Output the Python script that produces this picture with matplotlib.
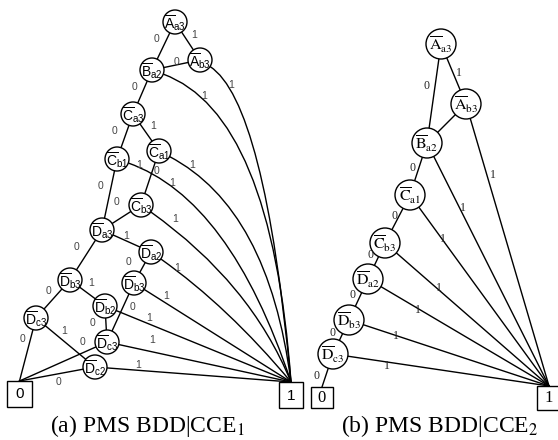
import numpy as np
import matplotlib
matplotlib.use("Agg")
from matplotlib import pyplot as plt
from matplotlib.patches import Circle, Rectangle, PathPatch
from matplotlib.path import Path

plt.rcParams['mathtext.fontset'] = 'custom'
plt.rcParams['mathtext.rm'] = 'Liberation Sans'
plt.rcParams['mathtext.it'] = 'Liberation Sans:italic'

# ---- (a) PMS BDD|CCE1 ----
a_nodes = ['Aa3', 'Ab3', 'Ba2', 'Ca3', 'Ca1', 'Cb1', 'Cb3', 'Da3', 'Da2',
           'Db3', 'Db3r', 'Db2', 'Dc3', 'Dc3m', 'Dc2']
a_letters = ['A', 'A', 'B', 'C', 'C', 'C', 'C', 'D', 'D', 'D', 'D', 'D', 'D', 'D', 'D']
a_subs = ['a3', 'b3', 'a2', 'a3', 'a1', 'b1', 'b3', 'a3', 'a2', 'b3', 'b3', 'b2', 'c3', 'c3', 'c2']
a_edges = [('Aa3', 'Ba2', '0'), ('Aa3', 'Ab3', '1'), ('Ab3', 'Ba2', '0'), ('Ab3', 'T1', '1'),
           ('Ba2', 'Ca3', '0'), ('Ba2', 'T1', '1'),
           ('Ca3', 'Cb1', '0'), ('Ca3', 'Ca1', '1'),
           ('Ca1', 'Cb3', '0'), ('Ca1', 'T1', '1'),
           ('Cb1', 'Da3', '0'), ('Cb1', 'T1', '1'),
           ('Cb3', 'Da3', '0'), ('Cb3', 'T1', '1'),
           ('Da3', 'Db3', '0'), ('Da3', 'Da2', '1'),
           ('Da2', 'Db3r', '0'), ('Da2', 'T1', '1'),
           ('Db3', 'Dc3', '0'), ('Db3', 'Db2', '1'),
           ('Db3r', 'Dc3m', '0'), ('Db3r', 'T1', '1'),
           ('Db2', 'Dc3m', '0'), ('Db2', 'T1', '1'),
           ('Dc3', 'T0', '0'), ('Dc3', 'Dc2', '1'),
           ('Dc3m', 'T0', '0'), ('Dc3m', 'T1', '1'),
           ('Dc2', 'T0', '0'), ('Dc2', 'T1', '1')]

# ---- (b) PMS BDD|CCE2 ----
b_nodes = ['Aa3', 'Ab3', 'Ba2', 'Ca1', 'Cb3', 'Da2', 'Db3', 'Dc3']
b_letters = ['A', 'A', 'B', 'C', 'C', 'D', 'D', 'D']
b_subs = ['a3', 'b3', 'a2', 'a1', 'b3', 'a2', 'b3', 'c3']
b_edges = [('Aa3', 'Ba2', '0'), ('Aa3', 'Ab3', '1'), ('Ab3', 'Ba2', ''), ('Ab3', 'T1', '1'),
           ('Ba2', 'Ca1', '0'), ('Ba2', 'T1', '1'),
           ('Ca1', 'Cb3', '0'), ('Ca1', 'T1', '1'),
           ('Cb3', 'Da2', '0'), ('Cb3', 'T1', '1'),
           ('Da2', 'Db3', '0'), ('Da2', 'T1', '1'),
           ('Db3', 'Dc3', '0'), ('Db3', 'T1', '1'),
           ('Dc3', 'T0', '0'), ('Dc3', 'T1', '1')]

captions = ['(a) PMS BDD|CCE$_1$', '(b) PMS BDD|CCE$_2$']

# ---- layout (pixel coords, y downwards) ----
a_pos = {'Aa3': (175, 22), 'Ab3': (200, 60), 'Ba2': (152, 70), 'Ca3': (133, 114),
         'Ca1': (159, 151), 'Cb1': (117, 159), 'Cb3': (141, 205), 'Da3': (102, 230),
         'Da2': (151, 252), 'Db3': (70, 280), 'Db3r': (134, 283), 'Db2': (105, 306),
         'Dc3': (36, 318), 'Dc3m': (107, 342), 'Dc2': (95, 367)}
a_term = {'T0': (19.5, 381, 25, 26), 'T1': (291, 382, 24, 26)}
a_bend = {'Ab3': (0.71, 0.13), 'Ba2': (0.86, 0.14), 'Ca1': (0.83, 0.25),
          'Cb1': (0.65, 0.18), 'Cb3': (0.73, 0.44), 'Da2': (0.55, 0.42)}
a_lab = [[(156, 39)], [(194, 35)], [(177, 62)], [(231, 85)],
         [(135, 87)], [(204, 96)],
         [(115, 131)], [(153, 126)],
         [(157, 171)], [(192, 165)],
         [(100, 186)], [(139, 165), (172, 183)],
         [(117, 202)], [(175, 219)],
         [(77, 247)], [(126, 236)],
         [(129, 262)], [(177, 268)],
         [(49, 291)], [(91, 283)],
         [(132, 307)], [(166, 296)],
         [(93, 323)], [(149, 318)],
         [(23, 339)], [(64, 331)],
         [(83, 342)], [(152, 340)],
         [(58, 382)], [(138, 365)]]

b_pos = {'Aa3': (441, 44), 'Ab3': (466, 104), 'Ba2': (427, 143), 'Ca1': (410, 195),
         'Cb3': (385, 243), 'Da2': (368, 279), 'Db3': (349, 320), 'Dc3': (333, 354)}
b_term = {'T0': (322, 387, 22, 21), 'T1': (549, 386, 24, 24)}
b_lab = [[(427, 86)], [(459, 73)], [], [(493, 175)],
         [(413, 168)], [(463, 208)],
         [(395, 216)], [(443, 239)],
         [(370, 255)], [(439, 288)],
         [(353, 295)], [(418, 310)],
         [(333, 333)], [(396, 336)],
         [(317, 376)], [(387, 366)]]


def trim(c, toward, r):
    c = np.asarray(c, float)
    d = np.asarray(toward, float) - c
    return c + r * d / np.hypot(*d)


def draw_bdd(ax, nodes, letters, subs, pos, r, edges, labs, term, bend,
             node_fs, lab_fs, lab_color, family, math_family, term_fs):
    for (src, dst, lab), lxy in zip(edges, labs):
        p0 = pos[src]
        if dst in term:
            p2 = term[dst][:2]
        else:
            p2 = pos[dst]
        if dst == 'T1' and src in bend:
            fx, fy = bend[src]
            ctrl = (p0[0] + fx * (p2[0] - p0[0]), p0[1] + fy * (p2[1] - p0[1]))
            s = trim(p0, ctrl, r)
            path = Path([s, ctrl, p2], [Path.MOVETO, Path.CURVE3, Path.CURVE3])
            ax.add_patch(PathPatch(path, fc='none', ec='black', lw=1.0, zorder=1))
        else:
            s = trim(p0, p2, r)
            e = p2 if dst in term else trim(p2, p0, r)
            ax.plot([s[0], e[0]], [s[1], e[1]], color='black', lw=1.0, zorder=1)
        for x, y in lxy:
            ax.text(x, y, lab, ha='center', va='center', fontsize=lab_fs,
                    color=lab_color, family=family, zorder=3)

    for name, let, sub in zip(nodes, letters, subs):
        x, y = pos[name]
        ax.add_patch(Circle((x, y), r, fc='white', ec='black', lw=1.0, zorder=2))
        ax.text(x, y + 1, r'$\overline{\mathrm{%s}}_{\mathrm{%s}}$' % (let, sub),
                ha='center', va='center', fontsize=node_fs, family=family,
                math_fontfamily=math_family, zorder=3)

    for t, (cx, top, w, h) in term.items():
        ax.add_patch(Rectangle((cx - w / 2, top), w, h, fc='white', ec='black',
                               lw=1.0, zorder=2))
        ax.text(cx, top + h / 2 + 0.5, t[1], ha='center', va='center', fontsize=term_fs,
                family=family, zorder=3)


fig = plt.figure(figsize=(5.58, 4.40), dpi=100)
ax = fig.add_axes([0, 0, 1, 1])
ax.set_xlim(0, 558)
ax.set_ylim(440, 0)
ax.axis('off')

draw_bdd(ax, a_nodes, a_letters, a_subs, a_pos, 12, a_edges, a_lab, a_term, a_bend,
         10, 7.5, '#444444', 'Liberation Sans', 'custom', 11)
draw_bdd(ax, b_nodes, b_letters, b_subs, b_pos, 15, b_edges, b_lab, b_term, {},
         11.5, 8.5, '#222222', 'Liberation Serif', 'stix', 12)

ax.text(147, 426, captions[0], ha='center', va='center', fontsize=17,
        family='Liberation Serif', math_fontfamily='stix')
ax.text(440, 426, captions[1], ha='center', va='center', fontsize=17,
        family='Liberation Serif', math_fontfamily='stix')

fig.savefig('out.png', dpi=100)
